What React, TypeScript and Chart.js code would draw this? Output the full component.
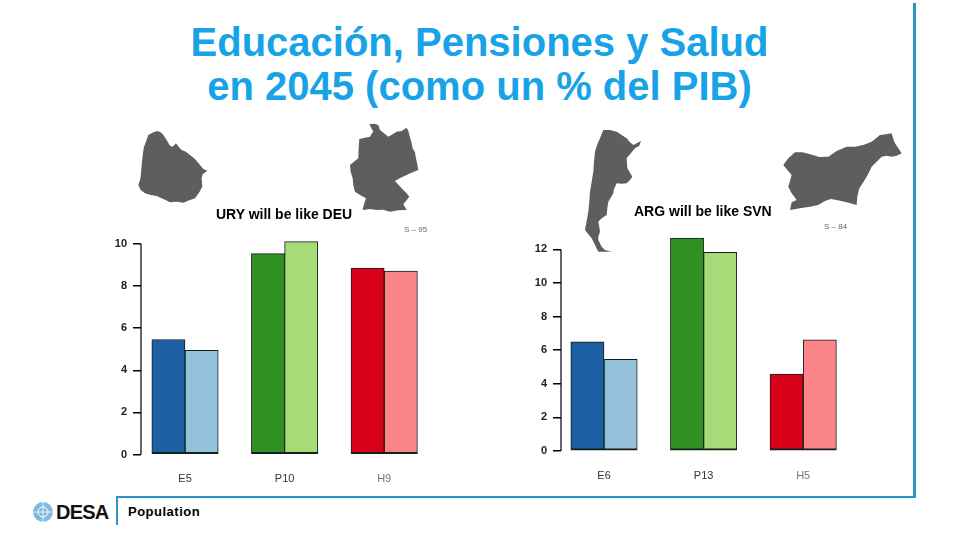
import React, { useEffect, useRef } from "react";
import { Chart, registerables } from "chart.js";

Chart.register(...registerables);

const leftLabels = ["E5", "P10", "H9"];
const leftNow = [5.46, 9.54, 8.85];
const leftFuture = [4.95, 10.11, 8.71];
const leftTicks = [0, 2, 4, 6, 8, 10];

const rightLabels = ["E6", "P13", "H5"];
const rightNow = [6.49, 12.66, 4.57];
const rightFuture = [5.45, 11.82, 6.61];
const rightTicks = [0, 2, 4, 6, 8, 10, 12];

const darkColors = ["#1c5fa3", "#2e9122", "#d9001a"];
const lightColors = ["#96c1da", "#a6db78", "#fb8489"];
const labelColors = ["#333333", "#333333", "#777777"];

const FONT = "'Liberation Sans', Arial, sans-serif";
const BLUE = "#2a96c6";

type PanelProps = {
  labels: string[];
  now: number[];
  future: number[];
  ticks: number[];
  left: number;
  top: number;
  width: number;
  height: number;
  axisWidth: number;
  xBottom: number;
  xMin: number;
  xMax: number;
  yMax: number;
  barWidth: number;
};

const axisLine = {
  id: "axisLine",
  afterDraw(chart: any) {
    const y = chart.scales.y;
    const top = y.getPixelForValue(y.ticks[y.ticks.length - 1].value);
    const bottom = y.getPixelForValue(0);
    const c = chart.ctx;
    c.save();
    c.strokeStyle = "#000000";
    c.lineWidth = 1.2;
    c.beginPath();
    c.moveTo(y.right, top);
    c.lineTo(y.right, bottom);
    c.stroke();
    c.restore();
  },
};

function Panel(p: PanelProps) {
  const ref = useRef<HTMLCanvasElement>(null);
  useEffect(() => {
    const series = (vals: number[], colors: string[]) => ({
      data: vals.map((v, i) => ({ x: i + 1, y: v })),
      backgroundColor: colors,
      borderColor: "#141f1a",
      borderWidth: { top: 1, left: 1, right: 1, bottom: 2 },
      borderSkipped: false,
      clip: false,
      barThickness: p.barWidth,
    });
    const chart = new Chart(ref.current as HTMLCanvasElement, {
      type: "bar",
      data: { datasets: [series(p.now, darkColors), series(p.future, lightColors)] as any },
      plugins: [axisLine],
      options: {
        animation: false,
        responsive: false,
        layout: { padding: 0, autoPadding: false },
        plugins: { legend: { display: false }, tooltip: { enabled: false } },
        scales: {
          x: {
            type: "linear",
            offset: false,
            min: p.xMin,
            max: p.xMax,
            grid: { display: false },
            border: { display: false },
            afterBuildTicks: (s: any) => {
              s.ticks = p.labels.map((_, i) => ({ value: i + 1 }));
            },
            afterFit: (s: any) => {
              s.height = p.xBottom;
            },
            ticks: {
              autoSkip: false,
              maxRotation: 0,
              padding: 10,
              color: (c: any) => labelColors[c.index],
              font: { family: FONT, size: 11 },
              callback: (v: any) => p.labels[Number(v) - 1],
            },
          },
          y: {
            min: 0,
            max: p.yMax,
            grid: { drawOnChartArea: false, drawTicks: true, tickLength: 8, color: "#000000", lineWidth: 1.5 },
            border: { display: false },
            afterBuildTicks: (s: any) => {
              s.ticks = p.ticks.map((value) => ({ value }));
            },
            afterFit: (s: any) => {
              s.width = p.axisWidth;
            },
            ticks: {
              padding: 6,
              color: "#222222",
              font: { family: FONT, size: 11, weight: "bold" },
            },
          },
        },
      } as any,
    });
    return () => chart.destroy();
  }, []);
  return (
    <canvas
      ref={ref}
      width={p.width}
      height={p.height}
      style={{ position: "absolute", left: p.left, top: p.top, width: p.width, height: p.height }}
    />
  );
}

const uruguay = "85,60 100,52 112,48 122,52 130,60 140,75 150,92 158,95 168,85 176,95 185,105 198,110 210,120 225,132 240,150 250,162 262,167 248,178 245,190 247,215 238,232 225,250 208,256 190,263 170,260 150,262 130,252 110,243 92,240 75,235 62,225 55,210 60,195 62,185 65,150 68,120 72,95 78,80";
const germany = "748,28 762,26 775,30 780,45 792,55 805,65 818,58 830,50 845,48 860,38 866,50 868,60 874,80 878,100 885,112 888,130 892,148 895,165 878,172 860,180 842,188 825,198 838,212 850,225 860,235 868,245 858,258 850,268 860,285 835,286 810,290 790,284 770,285 750,282 728,285 732,268 738,250 720,240 705,230 700,210 698,190 692,170 690,150 702,140 715,130 716,100 718,72 735,68 750,65 756,55 760,50";
const argentina = "100,45 120,45 140,50 155,60 170,70 180,82 190,90 213,78 208,92 195,100 170,130 172,160 187,185 178,197 170,205 155,206 140,205 132,222 130,235 122,248 115,260 112,280 110,300 95,310 85,320 88,335 90,350 85,365 85,375 95,395 105,405 125,410 85,410 75,390 65,370 55,358 45,345 50,318 55,290 58,260 60,230 65,200 70,170 72,140 75,110 82,88 90,70";
const slovenia = "930,60 948,58 965,55 970,72 975,85 985,100 995,115 980,122 965,125 950,122 935,125 920,140 905,155 898,170 890,185 880,202 868,220 862,245 860,270 830,262 800,255 782,252 765,258 745,270 720,275 690,280 660,285 665,262 680,255 665,235 655,215 660,198 665,180 652,165 640,150 655,130 675,112 698,112 720,118 748,126 775,125 800,108 830,95 855,95 880,90 905,80";

const text = (left: number, top: number, size: number, content: string, extra: any = {}) => (
  <div
    style={{
      position: "absolute",
      left,
      top,
      fontFamily: FONT,
      fontSize: size,
      lineHeight: `${size}px`,
      whiteSpace: "nowrap",
      color: "#000",
      ...extra,
    }}
  >
    {content}
  </div>
);

export default function App() {
  return (
    <div style={{ position: "fixed", left: 0, top: 0, width: 960, height: 540, background: "#fff", overflow: "hidden" }}>
      <div
        style={{
          position: "absolute",
          left: 0,
          top: 20,
          width: 959,
          textAlign: "center",
          fontFamily: FONT,
          fontWeight: "bold",
          fontSize: 40,
          lineHeight: "44px",
          color: "#17a3e6",
        }}
      >
        Educación, Pensiones y Salud
        <br />
        en 2045 (como un % del PIB)
      </div>

      <div style={{ position: "absolute", left: 913, top: 3, width: 3, height: 495, background: BLUE }} />
      <div style={{ position: "absolute", left: 117, top: 496, width: 799, height: 2, background: BLUE }} />
      <div style={{ position: "absolute", left: 116, top: 496, width: 2, height: 29, background: BLUE }} />

      <svg width={960} height={540} style={{ position: "absolute", left: 0, top: 0 }}>
        <g transform="translate(120 115) scale(0.3333)" fill="#5e5e5e">
          <polygon points={uruguay} />
          <polygon points={germany} />
        </g>
        <g transform="translate(570 115) scale(0.3333)" fill="#5e5e5e">
          <polygon points={argentina} />
          <polygon points={slovenia} />
        </g>
        <circle cx={43} cy={512} r={10} fill="#7fb9de" />
        <circle cx={43} cy={512} r={5} fill="none" stroke="#ffffff" strokeWidth={1} />
        <path d="M33 512H53M43 502V522" stroke="#ffffff" strokeWidth={0.8} />
      </svg>

      <Panel labels={leftLabels} now={leftNow} future={leftFuture} ticks={leftTicks}
        left={90} top={221} width={345} height={269} axisWidth={51} xBottom={35.5}
        xMin={0.558} xMax={3.51} yMax={10.49} barWidth={33.2} />
      <Panel labels={rightLabels} now={rightNow} future={rightFuture} ticks={rightTicks}
        left={510} top={218} width={345} height={272} axisWidth={51} xBottom={39}
        xMin={0.568} xMax={3.52} yMax={13.11} barWidth={33.2} />

      {text(216, 207, 14, "URY will be like DEU", { fontWeight: "bold" })}
      {text(634, 204, 14, "ARG will be like SVN", { fontWeight: "bold" })}
      {text(404, 226, 8, "S – 95", { color: "#666" })}
      {text(824, 223, 8, "S – 84", { color: "#666" })}

      {text(56, 502, 20, "DESA", { fontWeight: "bold", letterSpacing: -0.8, color: "#111" })}
      {text(128, 505, 13, "Population", { fontWeight: "bold", letterSpacing: 0.5 })}
    </div>
  );
}
